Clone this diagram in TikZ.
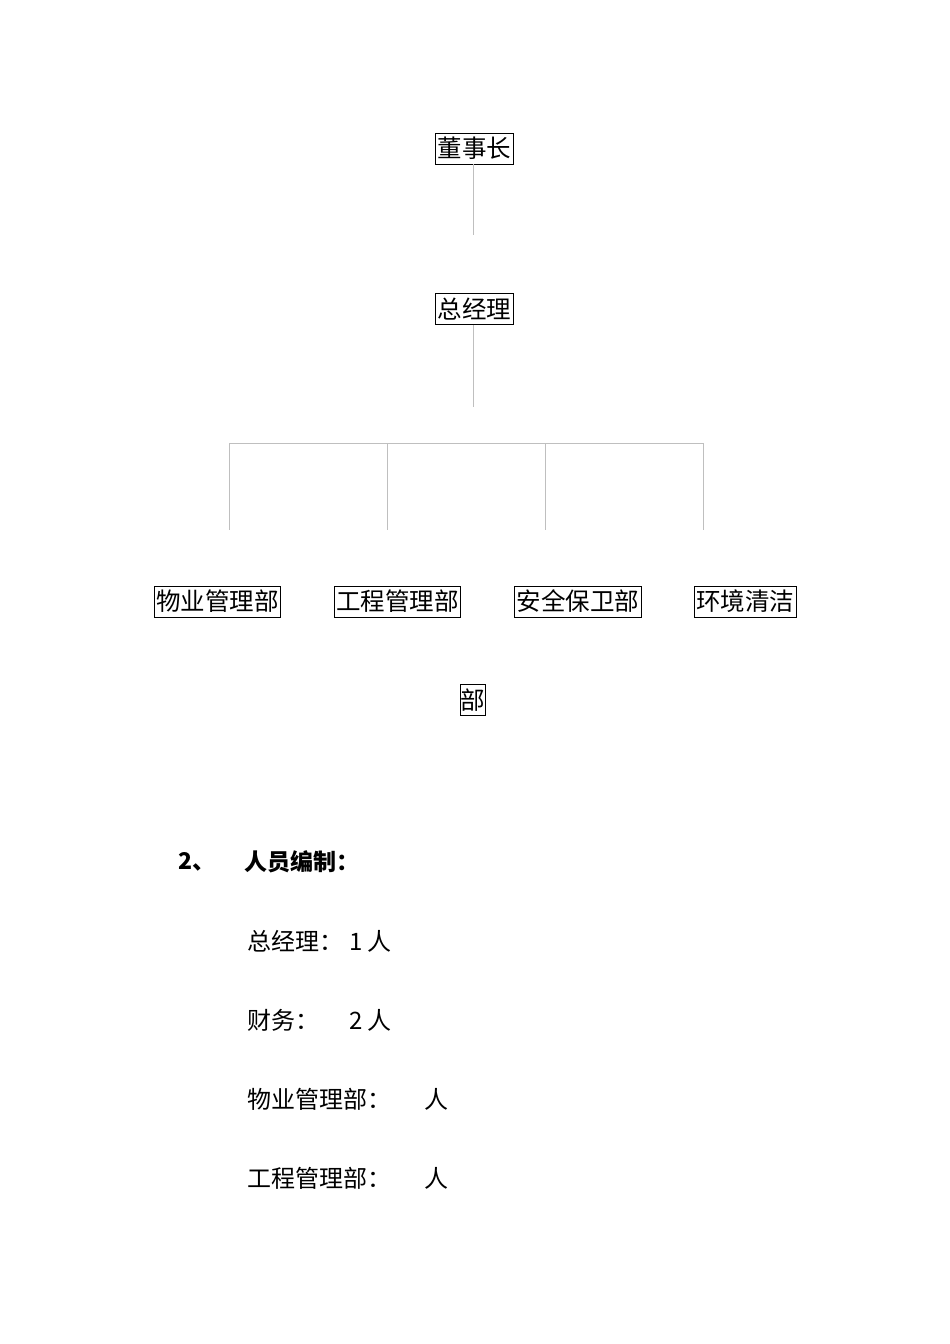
\documentclass[tikz,border=0pt]{standalone}
\usepackage{fontspec}
\newfontfamily\cjk{Noto Sans CJK SC}
\usepackage{tikz}

\begin{document}
\begin{tikzpicture}[x=1pt,y=-1pt,
    box/.style={draw,line width=0.8pt,inner xsep=2pt,inner ysep=0pt,
      minimum height=31pt,font=\cjk\fontsize{24.5}{24.5}\selectfont},
    link/.style={draw=black!25,line width=0.9pt},
    txt/.style={anchor=west,inner sep=0pt,font=\cjk\fontsize{24}{24}\selectfont}]
       \useasboundingbox (0,0) rectangle (950,1344);
       % boxes
       \node[box] (chair) at (474.5,148.5) {董事长};
       \node[box] (gm) at (474.5,309) {总经理};
       \node[box] (wuye) at (217.5,601.5) {物业管理部};
       \node[box] (gongcheng) at (397.5,601.5) {工程管理部};
       \node[box] (anquan) at (578,601.5) {安全保卫部};
       \node[box] (huanjing) at (745,601.5) {环境清洁};
       \node[box,inner xsep=0pt,minimum width=22pt] (bu) at (473,700) {部};
       % connectors
       \coordinate (c1) at (473.5,235);
       \coordinate (c2) at (473.5,407);
       \coordinate (b1) at (229,443);
       \coordinate (b2) at (387,443);
       \coordinate (b3) at (545,443);
       \coordinate (b4) at (703,443);
       \draw[link] (chair.south -| c1) -- (c1);
       \draw[link] (gm.south -| c2) -- (c2);
       \draw[link] (b1) -- (b4);
       \foreach \b in {b1,b2,b3,b4}
         \draw[link] (\b) -- ++(0,87);
       % staffing
       \node[txt,font=\cjk\bfseries\fontsize{23}{23}\selectfont] (num) at (178,862) {2、};
       \node[txt,font=\cjk\bfseries\fontsize{23}{23}\selectfont] (title) at (244,862) {人员编制：};
       \node[txt] (l1) at (247,941) {总经理：};
       \node[txt] (n1) at (349,941) {1 人};
       \node[txt] (l2) at (247,1020) {财务：};
       \node[txt] (n2) at (349,1020) {2 人};
       \node[txt] (l3) at (247,1099) {物业管理部：};
       \node[txt] (n3) at (424,1099) {人};
       \node[txt] (l4) at (247,1178) {工程管理部：};
       \node[txt] (n4) at (424,1178) {人};
\end{tikzpicture}
\end{document}
